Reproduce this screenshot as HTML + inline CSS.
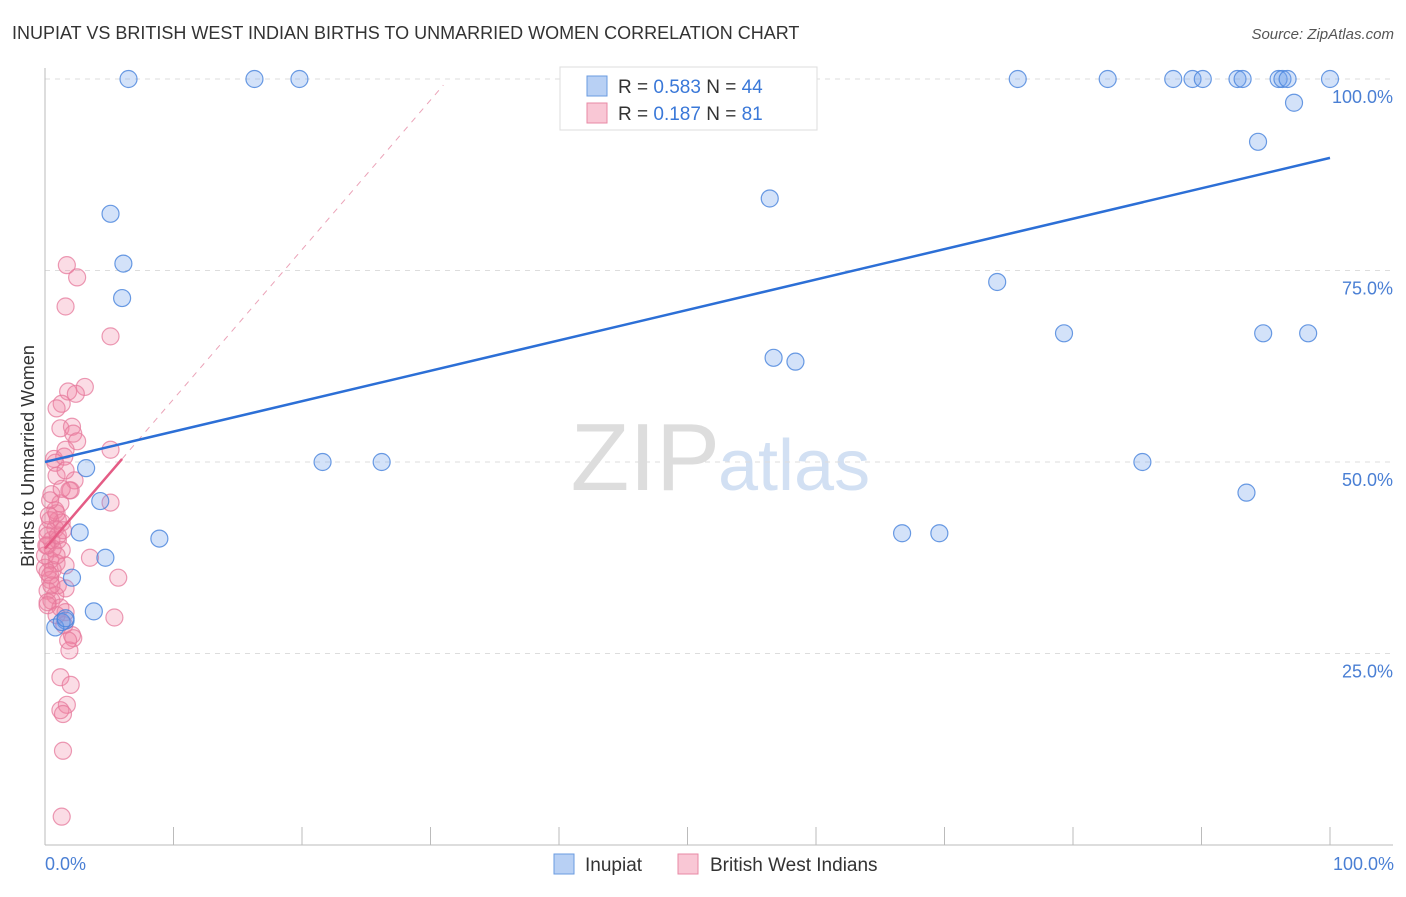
<!DOCTYPE html>
<html><head><meta charset="utf-8"><style>
body{margin:0;background:#fff;font-family:"Liberation Sans",sans-serif;}
svg text{font-family:"Liberation Sans",sans-serif;}
</style></head><body>
<svg id="chart" width="1406" height="892">
<text x="12" y="39" font-size="18" fill="#333">INUPIAT VS BRITISH WEST INDIAN BIRTHS TO UNMARRIED WOMEN CORRELATION CHART</text>
<text x="1394" y="39" font-size="15" fill="#555" font-style="italic" text-anchor="end">Source: ZipAtlas.com</text>
<text x="720" y="490" font-size="96" fill="#ddd" text-anchor="end" font-family="Liberation Serif">ZIP</text>
<text x="718" y="490" font-size="72" fill="#d2e0f3">atlas</text>
<g id="grid"></g><g id="marks"></g>
<text transform="translate(34,456) rotate(-90)" font-size="18" fill="#333" text-anchor="middle">Births to Unmarried Women</text>
<text x="45" y="870" font-size="18" fill="#4a7fd4">0.0%</text>
<text x="1394" y="870" font-size="18" fill="#4a7fd4" text-anchor="end">100.0%</text>
<g>
<rect x="560" y="67" width="257" height="63" fill="#fff" stroke="#ddd"/>
<rect x="587" y="76" width="20" height="20" fill="#b8d0f4" stroke="#6a9be0"/>
<rect x="587" y="103" width="20" height="20" fill="#f9c7d5" stroke="#e88aa5"/>
<text x="618" y="93" font-size="19" fill="#333">R = <tspan fill="#3a78d8">0.583</tspan>   N = <tspan fill="#3a78d8">44</tspan></text>
<text x="618" y="120" font-size="19" fill="#333">R =  <tspan fill="#3a78d8">0.187</tspan>    N =  <tspan fill="#3a78d8">81</tspan></text>
</g>
<g>
<rect x="554" y="854" width="20" height="20" fill="#b8d0f4" stroke="#6a9be0"/>
<text x="585" y="871" font-size="19" fill="#333">Inupiat</text>
<rect x="678" y="854" width="20" height="20" fill="#f9c7d5" stroke="#e88aa5"/>
<text x="710" y="871" font-size="19" fill="#333">British West Indians</text>
</g>
</svg>
<script>
const blueX=[6.5,16.3,19.8,75.7,82.7,87.8,89.3,90.1,92.8,93.2,96.0,96.3,96.7,100,52.4,97.2,94.4,5.1,56.4,6.1,6.0,74.1,79.3,94.8,98.3,56.7,58.4,21.6,26.2,85.4,3.2,4.3,93.5,2.7,8.9,66.7,69.6,4.7,2.1,3.8,1.6,0.8,1.3,1.6];
const blueY=[100,100,100,100,100,100,100,100,100,100,100,100,100,100,100,96.9,91.8,82.4,84.4,75.9,71.4,73.5,66.8,66.8,66.8,63.6,63.1,50,50,50,49.2,44.9,46.0,40.8,40.0,40.7,40.7,37.5,34.9,30.5,29.3,28.4,29.1,29.6];
const pinkX=[1.7,2.5,1.6,5.1,3.1,1.8,2.4,1.3,0.9,1.2,2.1,2.2,2.5,1.6,0.7,0.8,5.1,1.5,2.3,0.9,2.0,1.9,5.1,0.5,1.2,0.8,1.0,1.3,0.4,0.8,0.2,0.5,1.0,0.2,1.3,3.5,0.4,0.9,1.6,0.0,0.6,5.7,0.4,1.0,1.6,0.2,0.8,0.5,0.2,1.2,1.6,5.4,1.5,2.1,2.2,1.9,1.2,2.0,1.7,1.2,1.4,1.4,1.3,0.2,0.4,0.6,0.2,0.9,1.3,1.6,0.4,1.0,0.0,0.2,0.9,1.8,0.5,0.1,1.4,0.3,0.9];
const pinkY=[75.7,74.1,70.3,66.4,59.8,59.2,58.9,57.6,57.0,54.4,54.6,53.7,52.7,51.6,50.4,49.9,51.6,50.7,47.6,48.2,46.3,46.3,44.7,45.8,44.6,43.7,42.4,42.1,42.4,41.3,41.1,39.8,39.8,39.1,38.5,37.5,37.2,36.8,36.5,36.2,35.9,34.9,34.6,33.9,33.5,33.2,32.6,31.9,31.7,31.0,30.4,29.7,28.7,27.4,27.0,25.4,21.9,20.9,18.3,17.6,17.1,12.3,3.7,35.6,35.2,38.7,40.4,43.3,46.5,48.9,45.0,40.4,37.8,31.3,30.0,26.7,33.9,39.1,41.1,43.0,37.8];
const yTicks=[25,50,75,100];
const yTickLabels=["25.0%","50.0%","75.0%","100.0%"];
const blueLine=[0,50,100,89.7];
const pinkLine=[0,38.7,6,50.4];
const pinkDash=[6,50.4,31,99.2];
const NS="http://www.w3.org/2000/svg";
const sx=v=>45+v*12.85, sy=v=>845-v*7.66;
function mk(t,a,p){const e=document.createElementNS(NS,t);for(const k in a)e.setAttribute(k,a[k]);p.appendChild(e);return e;}
const grid=document.getElementById('grid'),marks=document.getElementById('marks');
yTicks.forEach((t,i)=>{
 const l=mk('line',{x1:45,x2:1393,y1:sy(t),y2:sy(t),stroke:'#ddd','stroke-dasharray':'5,5'},grid);
 
 
 const tx=mk('text',{x:1393,y:sy(t)+24,'font-size':18,fill:'#4a7fd4','text-anchor':'end'},grid);
 tx.textContent=yTickLabels[i];
 
 
});
const ax=mk('line',{x1:45,x2:45,y1:68,y2:845,stroke:'#bbb'},grid);


const bx=mk('line',{x1:45,x2:1393,y1:845,y2:845,stroke:'#bbb'},grid);


for(let i=1;i<=10;i++){const t=mk('line',{x1:sx(i*10),x2:sx(i*10),y1:827,y2:845,stroke:'#bbb'},grid);
 
 }
function dots(X,Y,fill,stroke,name){X.forEach((x,i)=>{const c=mk('circle',{cx:sx(x),cy:sy(Y[i]),r:8.5,fill:fill,stroke:stroke,'stroke-width':1.2},marks);
 
 });}
dots(pinkX,pinkY,'rgba(240,130,160,0.28)','rgba(230,120,155,0.75)','bwi-point');
dots(blueX,blueY,'rgba(110,160,235,0.3)','rgba(70,130,220,0.8)','inupiat-point');
const pd=mk('line',{x1:sx(pinkDash[0]),y1:sy(pinkDash[1]),x2:sx(pinkDash[2]),y2:sy(pinkDash[3]),stroke:'#eba3b8','stroke-dasharray':'6,6','stroke-width':1},marks);


const bl=mk('line',{x1:sx(blueLine[0]),y1:sy(blueLine[1]),x2:sx(blueLine[2]),y2:sy(blueLine[3]),stroke:'#2c6fd6','stroke-width':2.5},marks);


const pl=mk('line',{x1:sx(pinkLine[0]),y1:sy(pinkLine[1]),x2:sx(pinkLine[2]),y2:sy(pinkLine[3]),stroke:'#e45c85','stroke-width':2.5},marks);


</script>
</body></html>
